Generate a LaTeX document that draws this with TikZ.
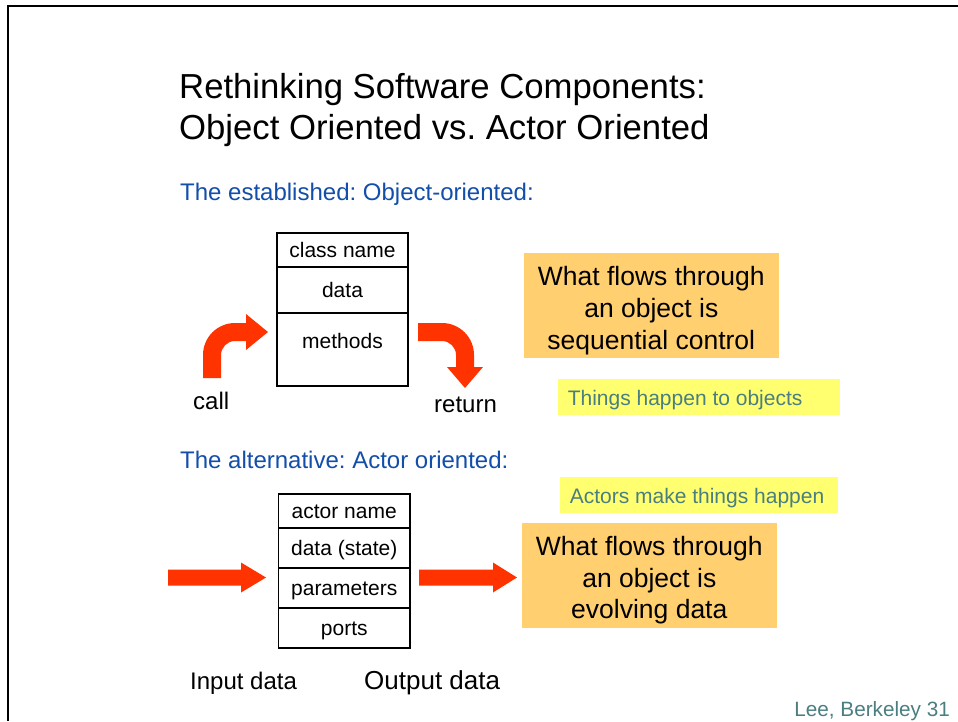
\documentclass[tikz,border=0pt]{standalone}
\usepackage{fontspec}
\setmainfont{Liberation Sans}
\frenchspacing
\definecolor{sred}{RGB}{255,51,0}
\definecolor{sblue}{RGB}{18,78,170}
\definecolor{steal}{RGB}{74,126,128}
\definecolor{sorange}{RGB}{255,207,112}
\definecolor{syellow}{RGB}{255,255,112}
\begin{document}
\begin{tikzpicture}[x=1pt,y=-1pt,
  cell/.style={draw=black, line width=1.2pt, inner sep=0pt, text height=15pt, text depth=0pt,
    font=\fontsize{21}{25}\selectfont},
  ocell/.style={cell, minimum width=131pt},
  acell/.style={cell, minimum width=131.5pt},
  txt/.style={inner sep=0pt, anchor=base west},
  title/.style={txt, font=\fontsize{34.7}{40}\selectfont},
  subhead/.style={txt, text=sblue, font=\fontsize{24}{28}\selectfont},
  lbl/.style={txt, font=\fontsize{24}{28}\selectfont},
  obox/.style={fill=sorange, inner sep=0pt, minimum width=255pt, align=center,
    font=\fontsize{26.5}{31.7}\selectfont},
  ybox/.style={fill=syellow, inner xsep=10pt, inner ysep=0pt, align=flush left,
    text height=16pt, text depth=0pt, text=steal, font=\fontsize{21}{25}\selectfont},
  blockarrow/.style={fill=sred, draw=none}
]
\useasboundingbox (0,0) rectangle (958,721);
\fill[white] (0,0) rectangle (958,721);
\draw[line width=2pt] (8,721) -- (8,6) -- (958,6);

% titles
\node[title] (t1) at (179,98) {Rethinking Software Components:};
\node[title] (t2) at (179,139) {Object Oriented vs. Actor Oriented};
\node[subhead] (s1) at (180,200.5) {The established: Object-oriented:};
\node[subhead] (s2) at (180,468) {The alternative: Actor oriented:};

% object box
\node[ocell, minimum height=34pt] (cname) at (342.5,250) {class name};
\node[ocell, minimum height=46pt] (cdata) at (342.5,290) {data};
\node[ocell, minimum height=73pt, text depth=18pt] (cmeth) at (342.5,349.5) {methods};

% call arrow
\fill[blockarrow] (203,378) -- (203,355)
  .. controls (203,337.3) and (217.3,323) .. (235,323)
  -- (246,323) -- (246,314) -- (268,332) -- (246,350) -- (246,341) -- (235,341)
  .. controls (227.3,341) and (221,347.3) .. (221,355)
  -- (221,378) -- cycle;
% return arrow
\fill[blockarrow] (418,323) -- (442,323)
  .. controls (459.7,323) and (474,337.3) .. (474,355)
  -- (474,367) -- (483,367) -- (465,388) -- (447,367) -- (456,367) -- (456,355)
  .. controls (456,347.3) and (449.7,341) .. (442,341)
  -- (418,341) -- cycle;

\node[lbl] (call) at (193,409) {call};
\node[lbl] (ret) at (434,412) {return};

% notes
\node[obox, minimum height=105.6pt] (o1) at (651.3,305.5) {\rule{0pt}{29.5pt}What flows through\\an object is\\sequential control};
\node[ybox, minimum height=35.7pt, text width=262pt] (y1) at (698.8,397.2) {Things happen to objects};
\node[ybox, minimum height=35.4pt, text width=258pt] (y2) at (698.8,495) {Actors make things happen};
\node[obox, minimum height=105.6pt] (o2) at (649.3,575.5) {\rule{0pt}{29pt}What flows through\\an object is\\evolving data};

% actor box
\node[acell, minimum height=34pt] (aname) at (344.25,511) {actor name};
\node[acell, minimum height=40pt] (adata) at (344.25,548) {data (state)};
\node[acell, minimum height=40pt] (apar) at (344.25,588) {parameters};
\node[acell, minimum height=40pt] (aports) at (344.25,628) {ports};

% input / output arrows
\fill[blockarrow] (168,569.5) -- (241,569.5) -- (241,562.5) -- (266,577.5) -- (241,592.5)
  -- (241,585.5) -- (168,585.5) -- cycle;
\fill[blockarrow] (419,569.5) -- (493,569.5) -- (493,562.5) -- (517,577.5) -- (493,592.5)
  -- (493,585.5) -- (419,585.5) -- cycle;

\node[lbl] (indata) at (190,689) {Input data};
\node[txt, font=\fontsize{26}{30}\selectfont] (outdata) at (364,689) {Output data};

\node[inner sep=0pt, anchor=base east, text=steal, font=\fontsize{20.7}{25}\selectfont] (foot) at (950,716) {Lee, Berkeley 31};
\end{tikzpicture}
\end{document}
